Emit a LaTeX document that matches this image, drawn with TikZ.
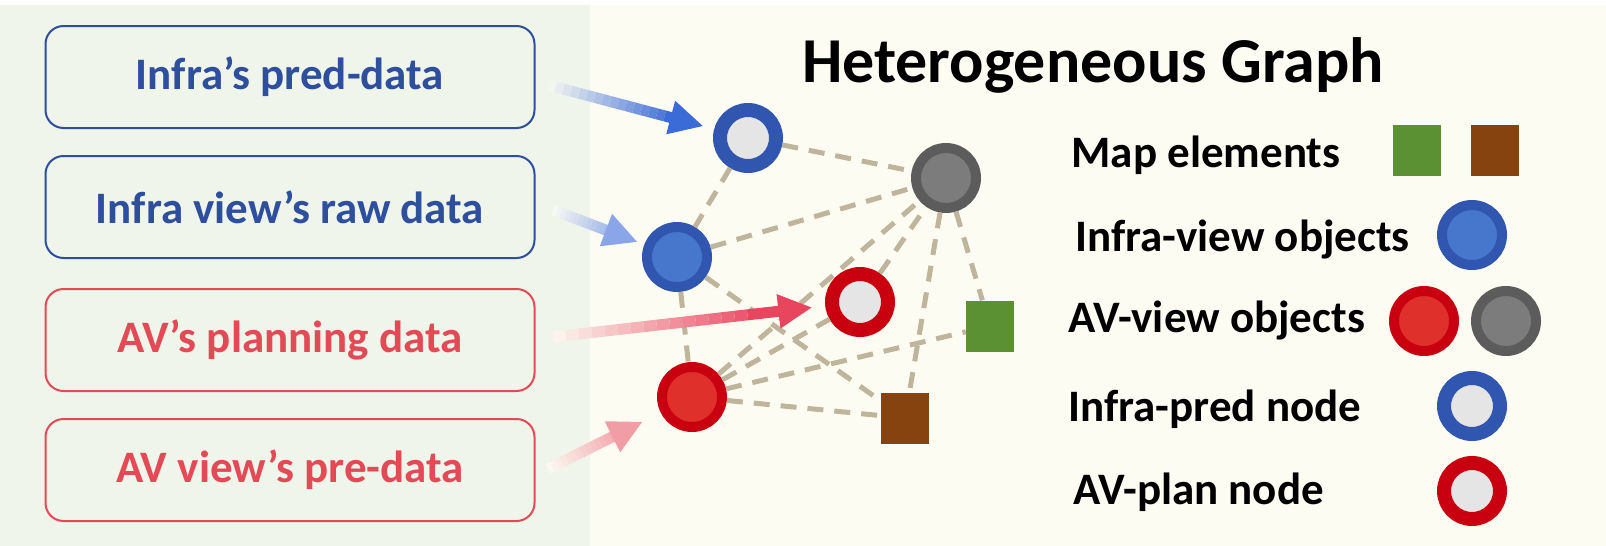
\documentclass[tikz,border=0pt]{standalone}
\usepackage{fontspec}
\setmainfont{Carlito}
\usetikzlibrary{arrows.meta, calc, positioning}

\definecolor{cream}{HTML}{FDFCF3}
\definecolor{panel}{HTML}{EFF5EA}
\definecolor{infrablue}{HTML}{2E4E9E}
\definecolor{avred}{HTML}{E34A55}
\definecolor{objblue}{HTML}{3056B0}
\definecolor{objbluein}{HTML}{4777CC}
\definecolor{objred}{HTML}{C8000F}
\definecolor{objredin}{HTML}{E0302C}
\definecolor{objgrey}{HTML}{5C5C5C}
\definecolor{objgreyin}{HTML}{7C7C7C}
\definecolor{ringin}{HTML}{E5E5E5}
\definecolor{mapgreen}{HTML}{5B9133}
\definecolor{mapbrown}{HTML}{86420F}
\definecolor{edgetan}{HTML}{BFB49C}
\definecolor{arrblue}{HTML}{3A6BD6}
\definecolor{arrlight}{HTML}{8AA6E8}
\definecolor{arrred}{HTML}{E8455F}
\definecolor{arrpink}{HTML}{F19DA6}

% fading arrow: from, to, colour
\newcommand{\fadearrow}[3]{%
  \foreach \i [evaluate=\i as \f using \i/20, evaluate=\i as \g using (\i+1)/20,
               evaluate=\i as \p using int(5+\i*6)] in {0,...,14}
    \draw[line width=11pt, #3!\p!cream] ($(#1)!\f!(#2)$) -- ($(#1)!\g!(#2)$);
  \draw[line width=11pt, #3, -{Triangle[length=34pt,width=32pt]}] ($(#1)!0.75!(#2)$) -- (#2);
}

\begin{document}
\begin{tikzpicture}[x=1pt, y=-1pt,
    txt/.style={font=\fontsize{45}{54}\selectfont\bfseries},
    srcbox/.style={draw, line width=2pt, rounded corners=18pt, minimum width=489pt, minimum height=102pt, txt},
    objnode/.style={circle, minimum size=60pt, line width=10pt, inner sep=0pt},
    ringnode/.style={circle, minimum size=56pt, line width=14pt, inner sep=0pt, fill=ringin},
    infraobj/.style={objnode, draw=objblue, fill=objbluein},
    avobj/.style={objnode, draw=objred, fill=objredin},
    greyobj/.style={objnode, draw=objgrey, fill=objgreyin},
    pred/.style={ringnode, draw=objblue},
    plan/.style={ringnode, draw=objred},
    mapel/.style={minimum width=48pt, minimum height=51pt, inner sep=0pt},
    edge/.style={edgetan, line width=5pt, dash pattern=on 16pt off 11pt},
    legtxt/.style={txt, anchor=base west}]

    % background
    \fill[white] (0,0) rectangle (1606,546);
    \fill[cream] (0,5) rectangle (1606,546);
    \fill[panel] (0,5) rectangle (590,546);

    % source boxes
    \node[srcbox, draw=infrablue, text=infrablue] (b1) at (290,77) {Infra’s pred-data};
    \node[srcbox, draw=infrablue, text=infrablue] (b2) at (290,207) {Infra view’s raw data};
    \node[srcbox, draw=avred, text=avred] (b3) at (290,340) {AV’s planning data};
    \node[srcbox, draw=avred, text=avred] (b4) at (290,470) {AV view’s pre-data};

    % title
    \node[font=\fontsize{64}{72}\selectfont\bfseries, anchor=base] (title) at (1093,82) {Heterogeneous Graph};

    % graph nodes
    \node[pred] (ipred) at (748,138) {};
    \node[infraobj] (iobj) at (677,257) {};
    \node[greyobj] (gobj) at (946,178) {};
    \node[plan] (avplan) at (860,302) {};
    \node[avobj] (aobj) at (692,397) {};
    \node[mapel, fill=mapgreen] (mg) at (990,326) {};
    \node[mapel, fill=mapbrown] (mb) at (905,418) {};

    % dashed edges
    \draw[edge] (ipred) -- (gobj);
    \draw[edge] (ipred) -- (iobj);
    \draw[edge] (iobj) -- (gobj);
    \draw[edge] (iobj) -- (mb);
    \draw[edge] (iobj) -- (aobj);
    \draw[edge] (aobj) -- (gobj);
    \draw[edge] (aobj) -- (avplan);
    \draw[edge] (aobj) -- (mg);
    \draw[edge] (aobj) -- (mb);
    \draw[edge] (avplan) -- (gobj);
    \draw[edge] (gobj) -- (mb);
    \draw[edge] (gobj) -- (mg);

    % input arrows
    \coordinate (s1) at (548,85);
    \coordinate (s2) at (553,210);
    \coordinate (s3) at (553,337);
    \coordinate (s4) at (548,469);
    \coordinate (e1) at ($(ipred)!46pt!(s1)$);
    \coordinate (e2) at ($(iobj)!42pt!(s2)$);
    \coordinate (e3) at ($(avplan)!48pt!(s3)$);
    \coordinate (e4) at ($(aobj)!55pt!(s4)$);
    \fadearrow{s1}{e1}{arrblue}
    \fadearrow{s2}{e2}{arrlight}
    \fadearrow{s3}{e3}{arrred}
    \fadearrow{s4}{e4}{arrpink}

    % legend
    \node[legtxt] (tmap) at (1068,167) {Map elements};
    \node[mapel, fill=mapgreen] (lgreen) at (1417,150) {};
    \node[mapel, fill=mapbrown] (lbrown) at (1495,150) {};
    \node[legtxt] (tobj) at (1072,251) {Infra-view objects};
    \node[infraobj] (lobj) at (1472,235) {};
    \node[legtxt] (tav) at (1065,332) {AV-view objects};
    \node[avobj] (lavred) at (1424,321) {};
    \node[greyobj] (lavgrey) at (1506,321) {};
    \node[legtxt] (tpred) at (1065,421) {Infra-pred node};
    \node[pred] (lpred) at (1472,406) {};
    \node[legtxt] (tplan) at (1070,504) {AV-plan node};
    \node[plan] (lplan) at (1472,491) {};

    \useasboundingbox (0,0) rectangle (1606,546);
\end{tikzpicture}
\end{document}
